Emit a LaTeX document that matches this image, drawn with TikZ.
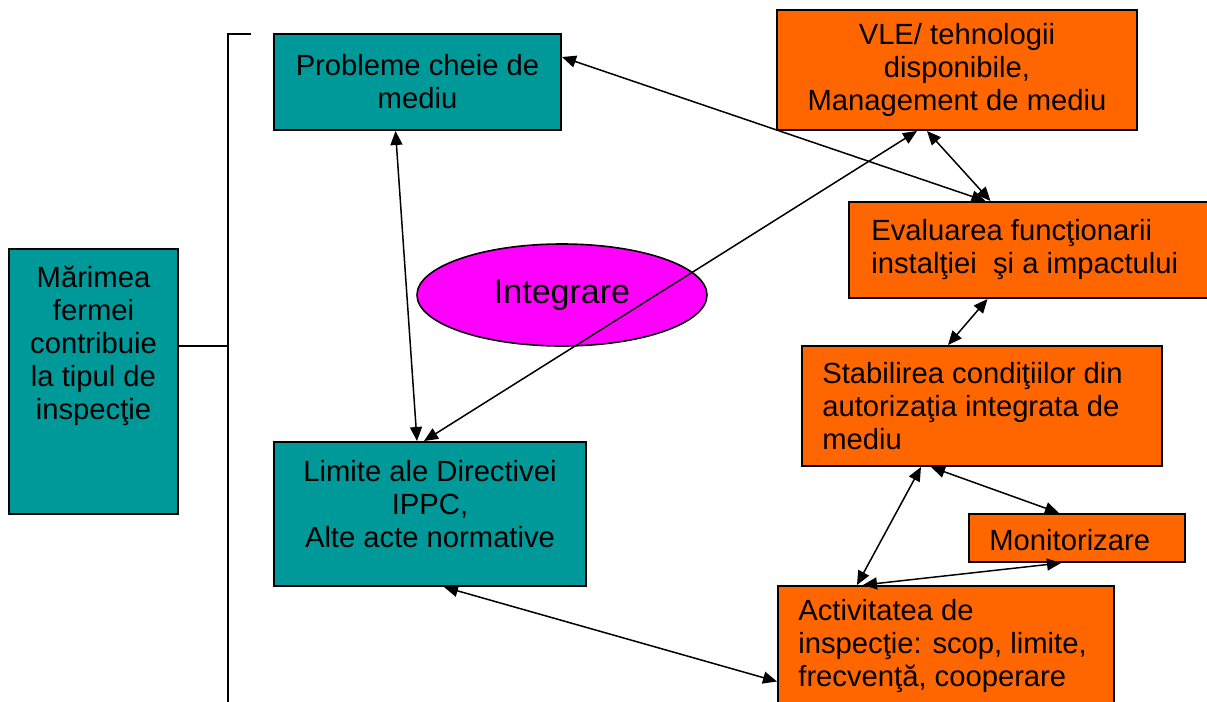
\documentclass[tikz,border=0pt]{standalone}
\usepackage{fontspec}
\setmainfont{Liberation Sans}
\usetikzlibrary{positioning,calc,arrows.meta,shapes}
\definecolor{tealbg}{HTML}{009999}
\definecolor{orangebg}{HTML}{FF6600}
\definecolor{magentabg}{HTML}{FF00FF}

\begin{document}
\begin{tikzpicture}[x=0.5pt,y=-0.5pt,
    every node/.style={font=\fontsize{14.6}{16.5}\selectfont},
    box/.style={draw,line width=1pt,rectangle,inner sep=0pt},
    tbox/.style={box,fill=tealbg},
    obox/.style={box,fill=orangebg},
    txt/.style={align=center,inner sep=0pt},
    ltxt/.style={align=left,inner sep=0pt},
    link/.style={<->,>={Triangle[length=7pt,width=6pt]},line width=0.75pt}]
    \useasboundingbox (0,0) rectangle (1207,702);
    \clip (0,0) rectangle (1207,702);
    % left side
    \node[tbox,minimum width=84.5pt,minimum height=132.5pt,
      label={[txt,yshift=18pt]center:{M\u{a}rimea\\fermei\\contribuie\\la tipul de\\inspecţie}}] (marime) at (93.5,381.5) {};
    \node[tbox,txt,minimum width=143.5pt,minimum height=48pt] (probleme) at (417.5,82) {Probleme cheie de\\mediu};
    \node[tbox,minimum width=156pt,minimum height=72pt,
      label={[txt,yshift=5pt]center:{Limite ale Directivei\\IPPC,\\Alte acte normative}}] (limite) at (430,514) {};
    \node[draw,fill=magentabg,ellipse,line width=0.8pt,inner sep=0pt,minimum width=145pt,minimum height=51pt,
      font=\fontsize{17}{20}\selectfont] (integ) at (562,295) {Integrare};
    % right side
    \node[obox,txt,minimum width=180pt,minimum height=60pt] (vle) at (957,70) {VLE/ tehnologii\\disponibile,\\Management de mediu};
    \node[obox,minimum width=185.5pt,minimum height=48pt,
      label={[ltxt,anchor=west,xshift=11.5pt]west:{Evaluarea funcţionarii\\instalţiei\ \ şi a impactului}}] (eval) at (1034.5,250) {};
    \node[obox,minimum width=180pt,minimum height=60pt,
      label={[ltxt,anchor=west,xshift=10.5pt]west:{Stabilirea condiţiilor din\\autorizaţia integrata de\\mediu}}] (stab) at (982,406) {};
    \node[obox,minimum width=108pt,minimum height=24pt,
      label={[ltxt,anchor=west,xshift=10.5pt,yshift=-1pt]west:{Monitorizare}}] (monit) at (1077,538) {};
    \node[obox,minimum width=168pt,minimum height=60.5pt,
      label={[ltxt,anchor=west,xshift=10.5pt]west:{Activitatea de\\inspecţie: scop, limite,\\frecvenţă, cooperare}}] (activ) at (946,646.5) {};
    % bracket
    \coordinate (brtop) at (251,34);
    \coordinate (brmid) at (228,346);
    \coordinate (brbot) at (228,712);
    \draw[line width=0.8pt] (brtop) -| (brbot);
    \draw[line width=0.8pt] (marime.east |- brmid) -- (brmid);
    % links
    \draw[link] ($(probleme.south)+(-22,0)$) -- ($(limite.north)+(-13,0)$);
    \draw[link] ($(limite.north)+(-6,0)$) -- ($(vle.south)+(-40,0)$);
    \draw[link] ($(probleme.north east)+(0,24)$) -- ($(eval.north)+(-49,0)$);
    \draw[link] ($(vle.south)+(-30,0)$) -- ($(eval.north)+(-44,0)$);
    \draw[link] ($(eval.south)+(-47,0)$) -- ($(stab.north)+(-34,0)$);
    \draw[link] ($(stab.south)+(-61,0)$) -- ($(activ.north)+(-89,0)$);
    \draw[link] ($(stab.south)+(-51,0)$) -- ($(monit.north)+(-18,0)$);
    \draw[link] ($(activ.north)+(-83,0)$) -- ($(monit.south)+(-16,0)$);
    \draw[link] ($(limite.south)+(14,0)$) -- ($(activ.west)+(0,35)$);
\end{tikzpicture}
\end{document}
